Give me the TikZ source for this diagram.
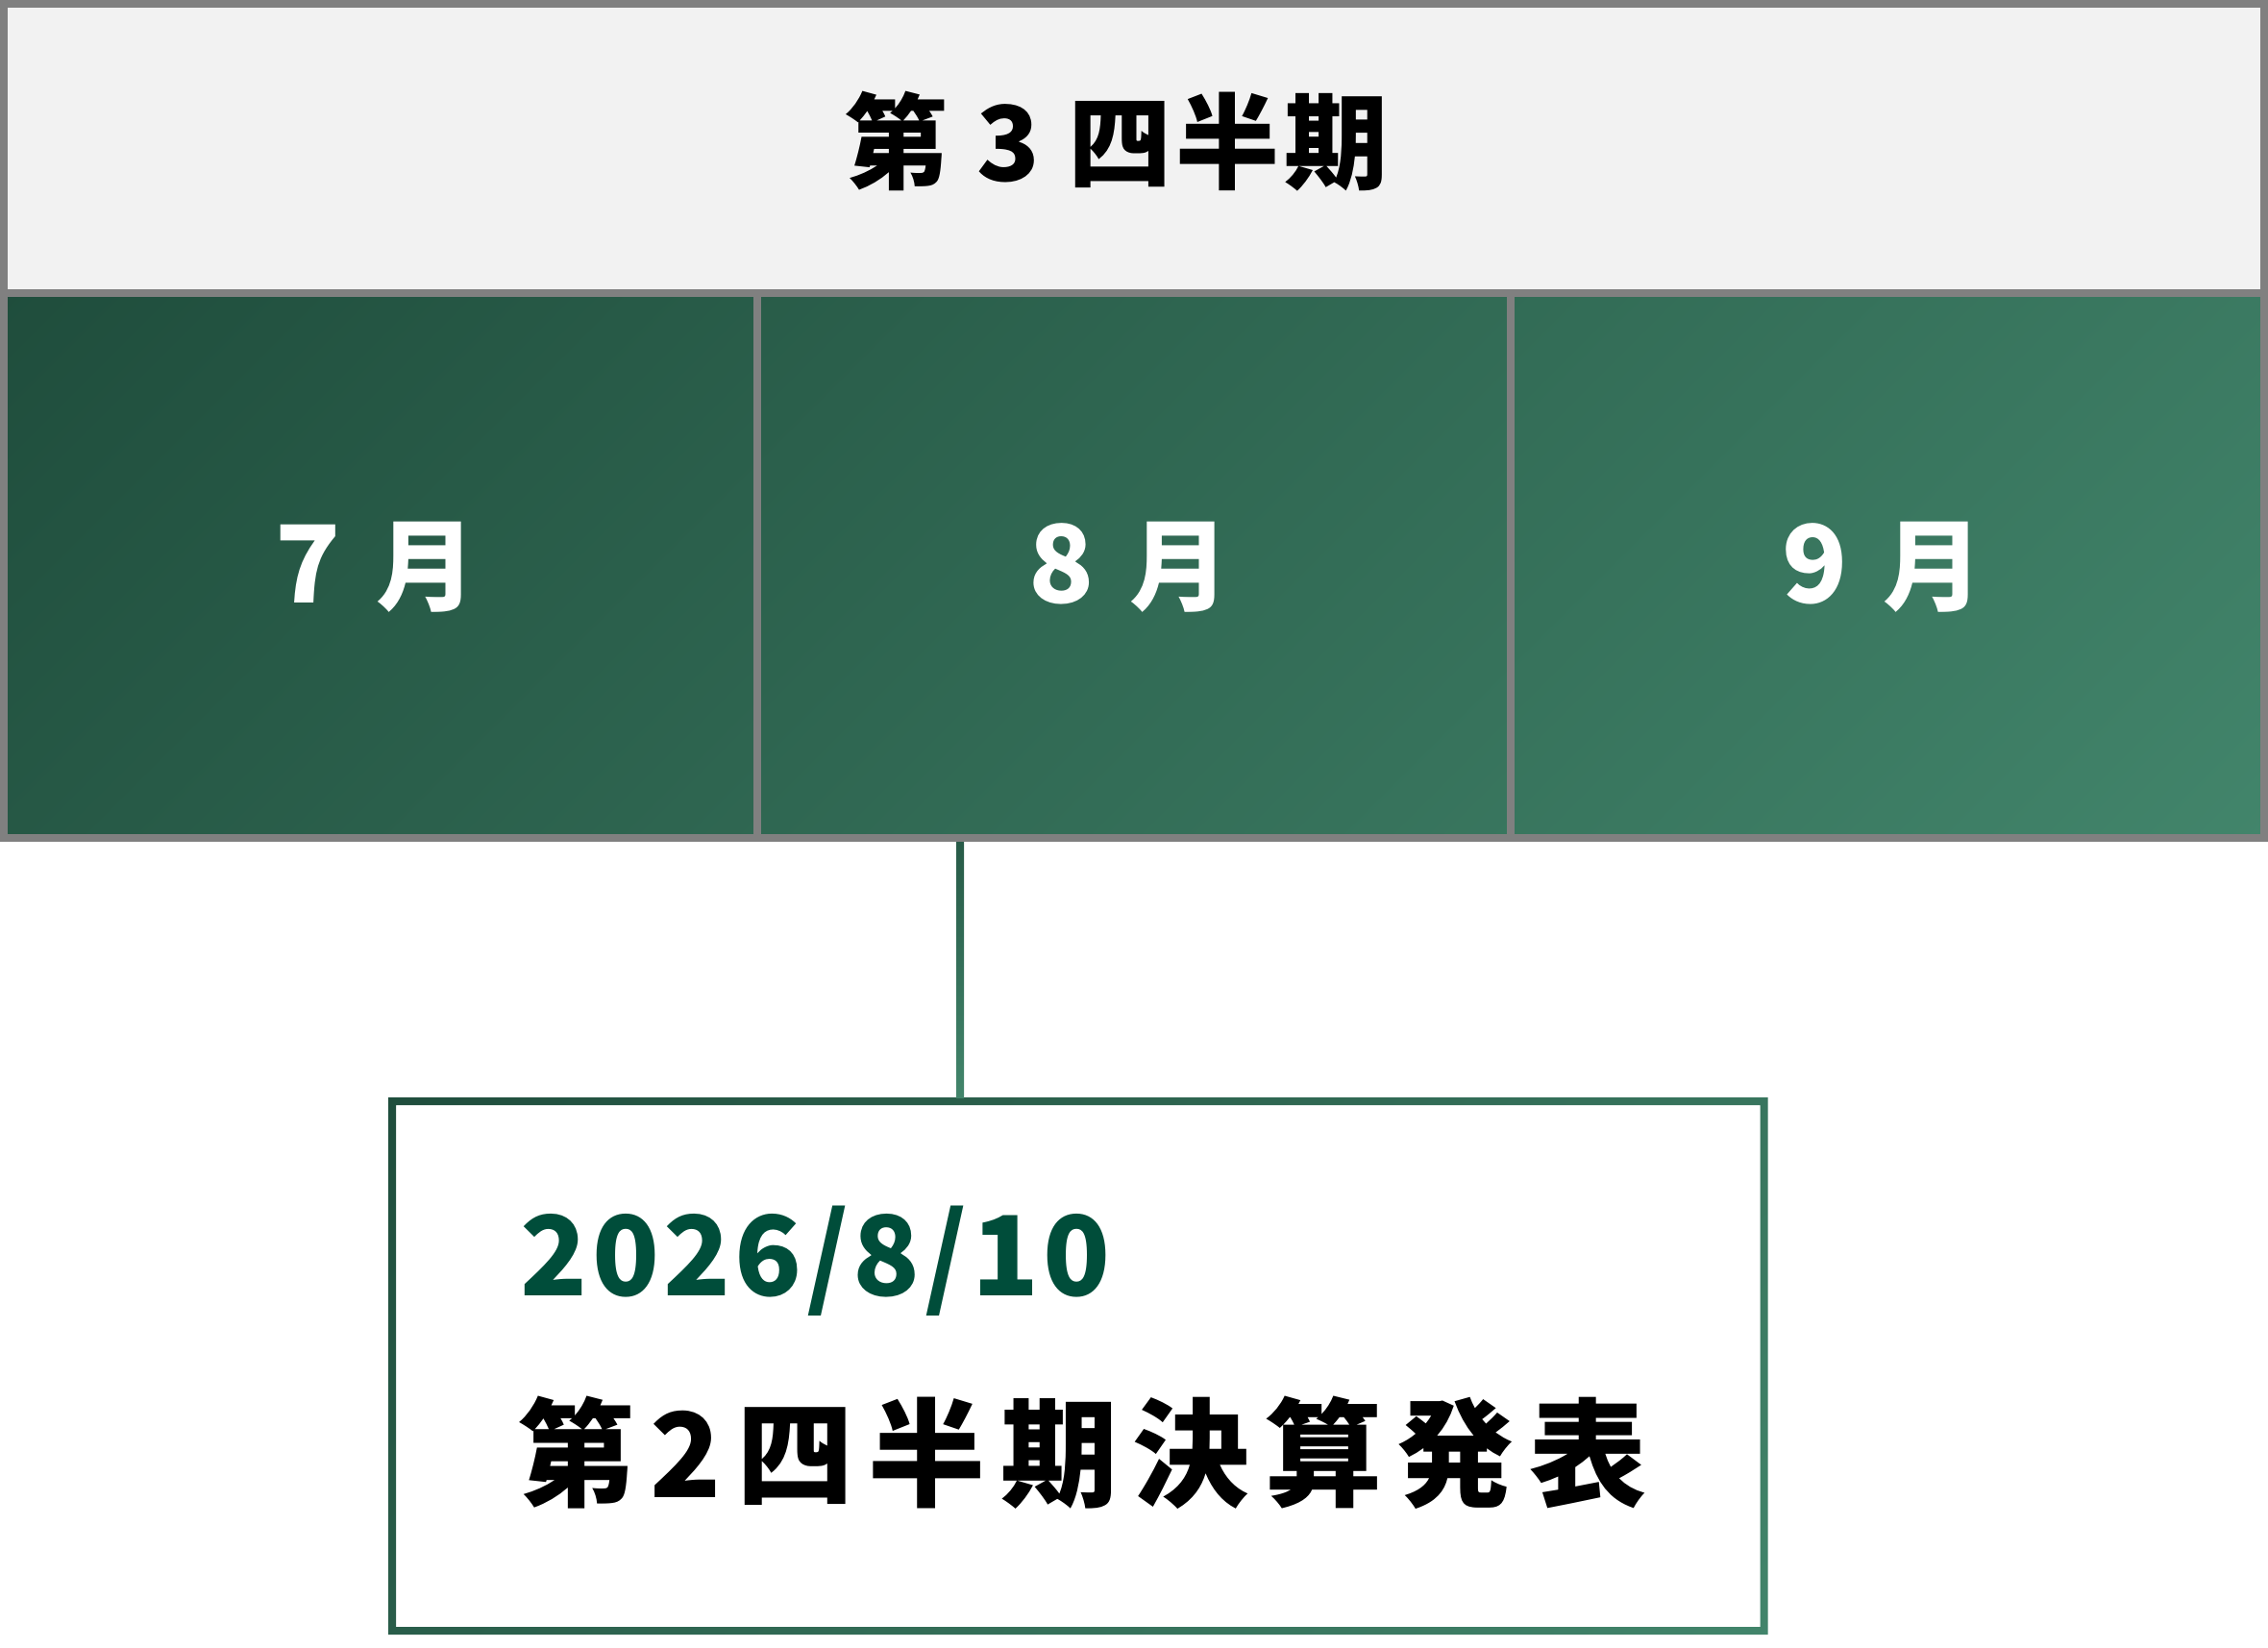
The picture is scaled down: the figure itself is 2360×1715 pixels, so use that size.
\documentclass[tikz,border=0pt]{standalone}
\usepackage{fontspec}
\newfontfamily\jp{Noto Sans CJK JP}
\newfontfamily\jptitle[LetterSpace=4]{Noto Sans CJK JP}
\newfontfamily\jpdate[LetterSpace=3.8]{Noto Sans CJK JP}
\newfontfamily\jpevent[LetterSpace=12.7]{Noto Sans CJK JP}
\usetikzlibrary{calc}
\definecolor{gA}{RGB}{31,77,60}
\definecolor{gB}{RGB}{66,133,107}
\definecolor{gridgray}{RGB}{128,128,128}
\definecolor{headbg}{RGB}{242,242,242}
\definecolor{datecol}{RGB}{0,77,58}
\newcommand{\monthlabel}[1]{{\fontsize{112}{112}\selectfont #1}\hspace{36pt}{\fontsize{104}{104}\selectfont 月}}
\tikzset{
  gridline/.style={draw=gridgray, line width=8pt},
  titletext/.style={inner sep=0pt, font=\jptitle\bfseries\fontsize{108}{108}\selectfont, text=black},
  monthtext/.style={inner sep=0pt, font=\jp\bfseries, text=white},
  datetext/.style={inner sep=0pt, anchor=base west, font=\jpdate\bfseries\fontsize{115}{115}\selectfont, text=datecol},
  eventtext/.style={inner sep=0pt, anchor=base west, font=\jpevent\bfseries\fontsize{122}{122}\selectfont, text=black},
}
\begin{document}
\begin{tikzpicture}[x=1pt,y=-1pt]
\useasboundingbox (0,0) rectangle (2360,1715);
\fill[white] (0,0) rectangle (2360,1715);
% header background
\fill[headbg] (4,4) rectangle (2356,304);
% month row gradient
\begin{scope}
\clip (4,304) rectangle (2356,872);
\shade[transform canvas={rotate around={-45:(1180,588)}}, left color=gA, right color=gB]
  (1180-1036,588-1400) rectangle (1180+1036,588+1400);
\end{scope}
% grid lines
\draw[gridline] (4,4) rectangle (2356,872);
\draw[gridline] (4,304.5) -- (2356,304.5);
\draw[gridline] (788,304) -- (788,872);
\draw[gridline] (1572,304) -- (1572,872);
% texts
\node[titletext] (title) at (1162,147) {第 3 四半期};
\node[monthtext] (m7) at (391,590) {\monthlabel{7}};
\node[monthtext] (m8) at (1175,590) {\monthlabel{8}};
\node[monthtext] (m9) at (1959,590) {\monthlabel{9}};
% event box
\coordinate (boxtl) at (408,1146);
\coordinate (boxbr) at (1835.5,1697);
\fill[white] (boxtl) rectangle (boxbr);
\begin{scope}[even odd rule]
\clip (404,1142) rectangle (1839.5,1701) (412,1150) rectangle (1831.5,1693);
\shade[transform canvas={rotate around={-45:(1121.75,1421.5)}}, left color=gA, right color=gB]
  (1121.75-712,1421.5-1000) rectangle (1121.75+712,1421.5+1000);
\end{scope}
% connector
\coordinate (ctop) at (999,876);
\coordinate (cbot) at (999,1142);
\shade[top color=gA!75!gB, bottom color=gB] ($(ctop)+(-4,0)$) rectangle ($(cbot)+(4,0)$);
\node[datetext] (date) at (541.5,1348) {2026/8/10};
\node[eventtext] (event) at (539,1558) {第2四半期決算発表};
\end{tikzpicture}
\end{document}
